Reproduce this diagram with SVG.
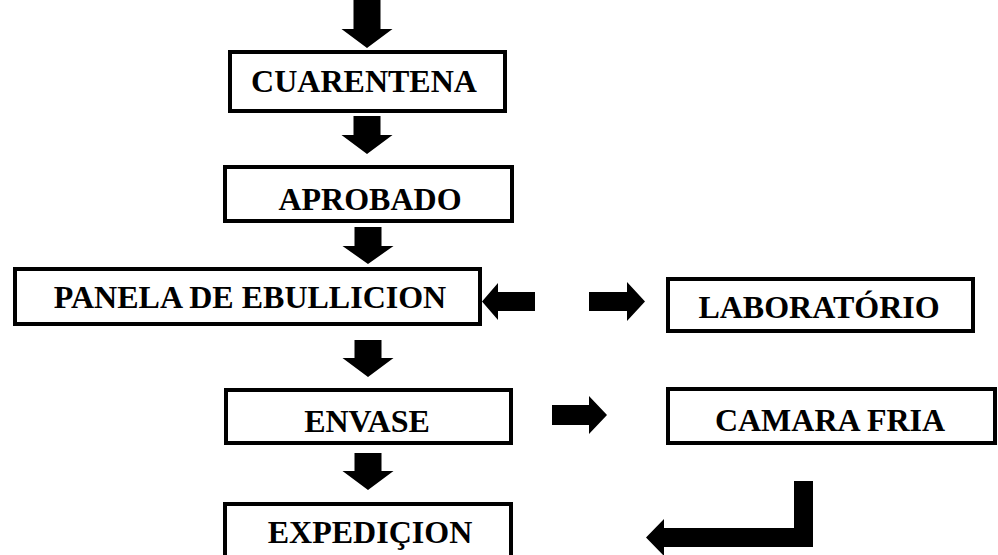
<svg xmlns="http://www.w3.org/2000/svg" width="998" height="555" viewBox="0 0 998 555">
<style>
.box{fill:#fff;stroke:#000;stroke-width:4}
.lbl{font-family:"Liberation Serif","Times New Roman",serif;font-weight:bold;font-size:32px;fill:#000;text-anchor:middle}
.arr{fill:#000;stroke:none}
</style>
<rect width="998" height="555" fill="#fff"/>
<g id="connectors">
<polygon class="arr" points="353.5,0 380.5,0 380.5,29 392.5,29 367,48 341.5,29 353.5,29"/>
<polygon class="arr" points="353.5,116 380.5,116 380.5,135 392.5,135 367,154 341.5,135 353.5,135"/>
<polygon class="arr" points="354.5,227 381.5,227 381.5,246 393.5,246 368,264 342.5,246 354.5,246"/>
<polygon class="arr" points="354.5,340 381.5,340 381.5,358 393.5,358 368,377 342.5,358 354.5,358"/>
<polygon class="arr" points="354.5,453 381.5,453 381.5,471 393.5,471 368,490 342.5,471 354.5,471"/>
<polygon class="arr" points="535,292 498,292 498,283 482,301.5 498,320 498,311 535,311"/>
<polygon class="arr" points="589,292 627,292 627,282 645,301.5 627,321 627,311 589,311"/>
<polygon class="arr" points="552,405 589,405 589,396 607,415 589,434 589,425 552,425"/>
<polygon class="arr" points="813,481 813,547 664,547 664,556 646,537.5 664,519 664,528 794,528 794,481"/>
</g>
<g id="cuarentena"><rect class="box" x="230" y="52" width="275" height="59"/><text class="lbl" x="364" y="92">CUARENTENA</text></g>
<g id="aprobado"><rect class="box" x="225" y="167" width="287" height="54"/><text class="lbl" x="370" y="210">APROBADO</text></g>
<g id="panela"><rect class="box" x="15" y="269" width="465" height="55"/><text class="lbl" x="250" y="308">PANELA DE EBULLICION</text></g>
<g id="laboratorio"><rect class="box" x="668" y="279" width="305" height="52"/><text class="lbl" x="819" y="318">LABORATÓRIO</text></g>
<g id="envase"><rect class="box" x="226" y="390" width="285" height="53"/><text class="lbl" x="367" y="432">ENVASE</text></g>
<g id="camara"><rect class="box" x="668" y="389" width="327" height="54"/><text class="lbl" x="830" y="431">CAMARA FRIA</text></g>
<g id="expedicion"><rect class="box" x="225" y="504" width="286" height="60"/><text class="lbl" x="370" y="543">EXPEDIÇION</text></g>
</svg>
